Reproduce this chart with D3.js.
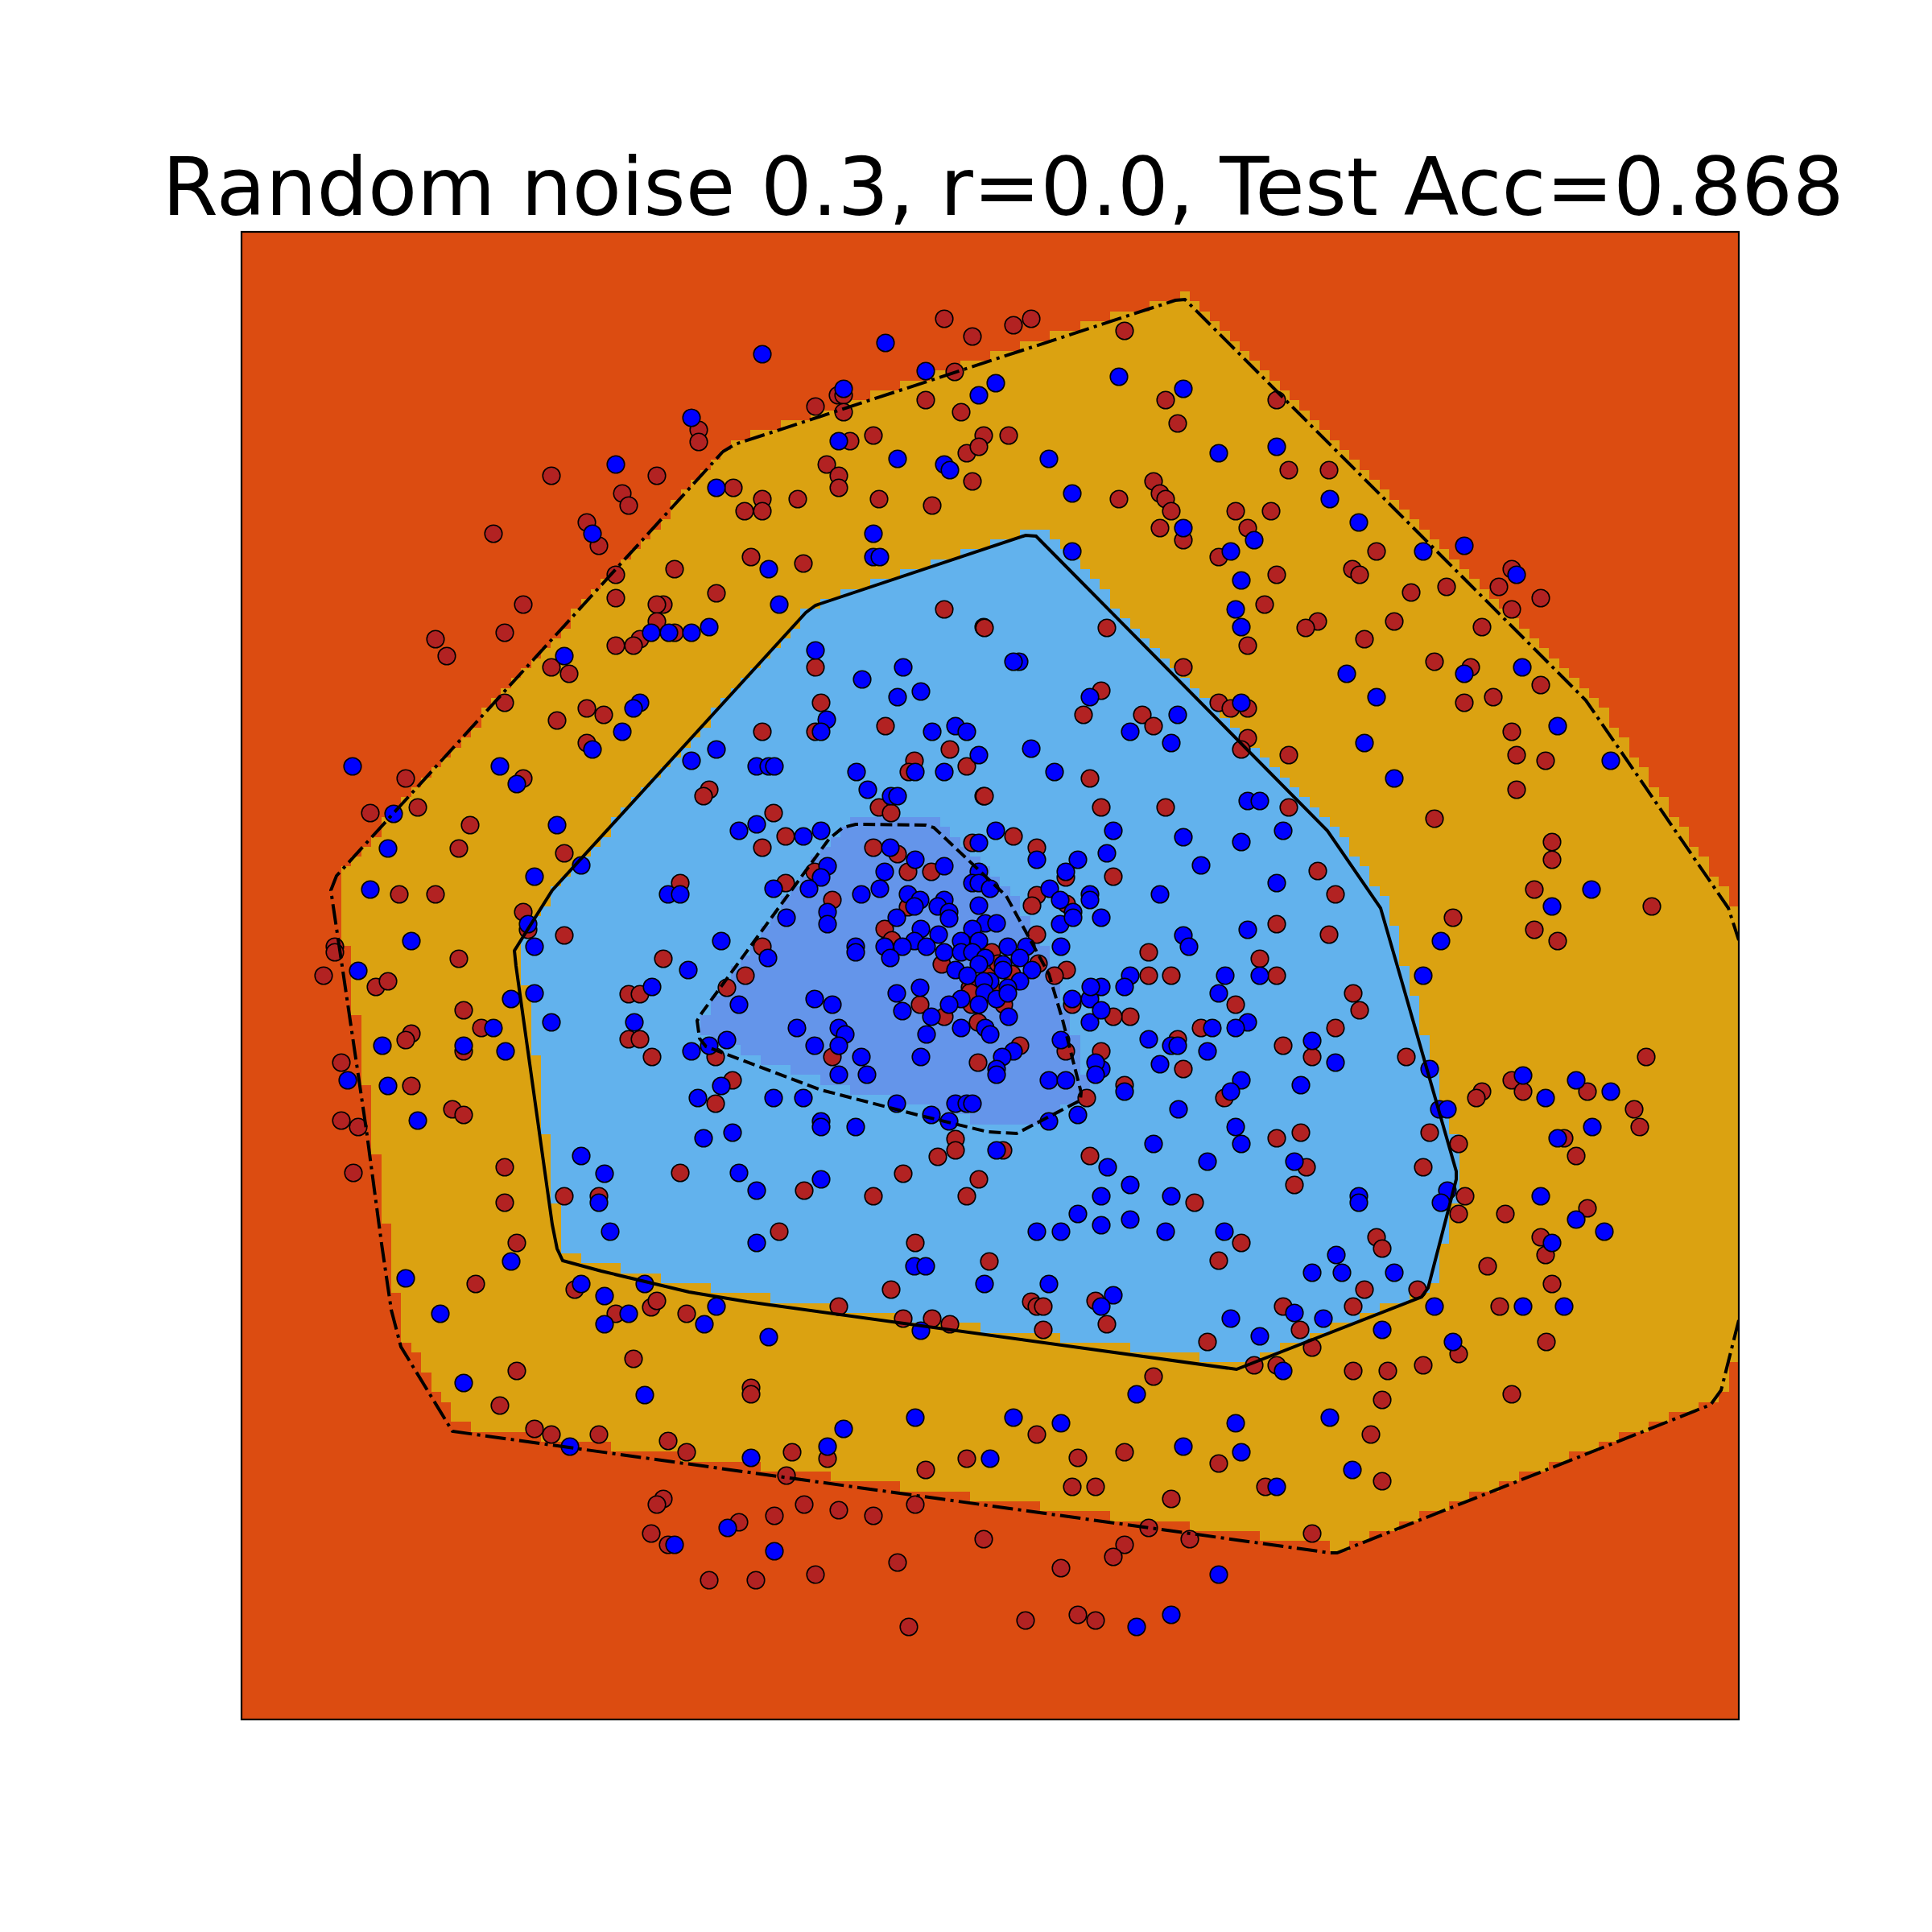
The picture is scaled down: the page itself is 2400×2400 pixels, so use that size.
<!DOCTYPE html>
<html>
<head>
<meta charset="utf-8">
<script src="https://cdn.jsdelivr.net/npm/d3@7"></script>
<style>
    html, body { margin: 0; background: #fff; }
</style>
</head>
<body>
<div id="chart"></div>
<script>
const titleText = "Random noise 0.3, r=0.0, Test Acc=0.868";

const redPoints = [
    [873,108],[908,130],[886,174],[741,203],[748,203],[713,217],[748,224],[850,209],[894,224],[922,253],
    [901,275],[916,267],[908,310],[785,253],[756,260],[727,289],[742,303],[742,318],[792,332],[858,340],
    [691,332],[647,332],[647,347],[625,347],[611,318],[516,303],[385,303],[568,246],[568,261],[473,325],
    [481,340],[429,361],[444,390],[313,375],[465,426],[465,455],[538,419],[633,404],[698,412],[590,449],
    [350,463],[327,498],[241,506],[255,527],[524,463],[516,463],[516,484],[538,498],[495,506],[487,514],
    [465,514],[385,541],[407,549],[327,585],[429,592],[450,600],[392,607],[429,635],[204,679],[350,679],
    [219,715],[160,722],[284,737],[270,766],[401,772],[196,823],[241,823],[350,845],[356,867],[401,874],
    [116,888],[116,895],[270,903],[102,924],[873,469],[922,491],[713,541],[720,585],[647,621],[713,621],
    [800,614],[880,643],[836,657],[829,671],[901,664],[922,701],[581,693],[574,701],[545,809],[524,903],
    // centre
    [661,722],[792,715],[807,722],[676,751],[647,765],[785,765],[815,773],[908,759],[959,751],[988,765],
    [828,795],[857,795],[712,795],[676,809],[734,830],[828,839],[988,824],[982,837],[1024,802],[1025,835],
    [799,866],[808,880],[988,873],[647,888],[626,924],[603,939],[932,895],[870,910],[990,909],[1025,917],
    [1010,924],[905,939],[843,960],[873,975],[907,960],[947,960],[915,982],[1032,960],[967,1011],[1024,1018],
    [589,1025],[734,1025],[915,1032],[610,1054],[589,1083],[887,1127],[887,1141],[865,1149],[946,1141],[1050,1076],
    [927,925],[957,922],[940,909],[905,945],[937,945],
    // upper right
    [981,108],[959,116],[1097,123],[1148,209],[1163,238],[1286,209],[953,253],[1301,296],[1351,296],[1133,310],
    [1141,325],[1148,332],[1090,332],[1155,347],[1141,368],[1170,383],[1235,347],[1279,347],[1250,368],[1214,404],
    [1410,397],[1380,419],[1389,426],[1286,426],[1453,448],[1497,441],[1271,463],[1337,484],[1322,492],[1432,484],
    [1395,506],[1541,491],[1250,514],[1578,419],[1562,441],[1578,469],[1614,455],[1075,492],[923,492],[1170,541],
    [1482,534],[1527,541],[1614,563],[1519,585],[1555,578],[1214,585],[1229,592],[1250,592],[1068,570],[1046,600],
    [1119,600],[1133,614],[1250,629],[1242,643],[1301,650],[1578,621],[1584,650],[1620,657],[1584,693],[1054,679],
    [923,701],[1068,715],[1148,715],[1482,729],[1301,715],[1628,758],[1628,780],[1337,794],[1083,801],[1359,823],
    [1606,817],[1752,838],[1505,852],[1286,860],[1351,873],[1606,867],[1635,881],[1127,895],[1265,903],[1127,924],
    [1155,924],[1286,924],
    // lower left
    [167,938],[182,931],[276,967],[298,989],[211,996],[204,1004],[124,1032],[276,1018],[211,1061],[124,1104],
    [145,1112],[262,1090],[276,1097],[139,1169],[327,1162],[327,1206],[401,1198],[444,1198],[545,1169],[342,1256],
    [291,1307],[414,1314],[465,1344],[509,1336],[516,1328],[553,1344],[481,947],[495,947],[481,1003],[495,1003],
    [510,1025],[668,1242],[837,1256],[807,1314],[742,1335],[822,1350],[858,1350],[880,1357],[785,1198],[699,1191],
    [822,1170],[916,1177],[901,1198],[929,1279],[487,1400],[342,1415],[321,1458],[633,1436],[633,1444],[364,1487],
    [385,1494],[444,1494],[530,1502],[553,1516],[684,1516],[728,1524],[850,1538],[901,1524],[677,1545],[524,1574],
    [516,1581],[618,1603],[662,1595],[699,1581],[742,1588],[785,1595],[837,1581],[509,1617],[530,1631],[922,1624],
    [581,1675],[639,1675],[713,1668],[815,1653],[829,1733],
    // lower right
    [1745,1025],[1381,946],[1389,967],[1359,989],[1294,1011],[1330,1025],[1447,1025],[1235,960],[1192,989],[1163,1003],
    [1068,1018],[1170,1040],[1104,975],[1083,975],[1097,1060],[1541,1068],[1534,1076],[1578,1054],[1592,1068],[1672,1068],
    [1730,1090],[1737,1112],[1643,1126],[1658,1148],[1512,1133],[1476,1119],[1316,1119],[1286,1126],[1468,1162],[1323,1162],
    [1308,1184],[1054,1148],[1221,1076],[1520,1198],[1512,1220],[1570,1220],[1672,1213],[1184,1206],[1242,1256],[1214,1278],
    [1410,1249],[1417,1263],[1614,1249],[1620,1271],[1548,1285],[1628,1307],[1395,1314],[1461,1314],[1563,1335],[1381,1335],
    [1294,1335],[1315,1364],[981,1329],[988,1335],[996,1335],[1061,1328],[1075,1357],[996,1364],[1200,1379],[1330,1386],
    [1258,1408],[1286,1408],[1512,1394],[1621,1379],[1381,1415],[1424,1415],[1468,1408],[1133,1422],[1417,1451],[1578,1444],
    [988,1494],[1403,1494],[1039,1523],[1097,1516],[1214,1530],[1032,1559],[1061,1559],[1272,1559],[1417,1552],[1155,1574],
    [1330,1617],[1127,1610],[1178,1624],[1097,1631],[1083,1646],[1018,1660],[974,1725],[1039,1718],[1061,1725]
];

const bluePoints = [
    [647,152],[800,138],[850,173],[748,195],[916,203],[559,231],[465,289],[742,260],[815,282],[873,289],
    [880,296],[590,318],[785,375],[785,404],[793,404],[655,419],[668,463],[436,375],[401,527],[509,498],
    [531,498],[559,498],[581,491],[713,520],[495,585],[487,592],[473,621],[436,643],[138,664],[321,664],
    [342,686],[189,723],[182,766],[392,737],[422,787],[364,801],[160,817],[356,860],[364,888],[211,881],
    [145,918],[530,823],[545,823],[771,556],[822,541],[815,578],[844,571],[727,606],[720,621],[858,621],
    [887,614],[901,621],[916,650],[873,671],[837,671],[764,671],[778,693],[807,701],[815,701],[590,643],
    [559,657],[640,664],[655,664],[662,664],
    // centre
    [618,744],[640,736],[698,751],[720,744],[806,765],[837,780],[916,759],[937,744],[988,780],[1039,780],
    [1024,795],[728,788],[720,802],[705,816],[661,816],[799,795],[873,788],[793,816],[770,823],[916,795],
    [908,809],[916,809],[930,816],[1004,816],[1017,830],[828,823],[843,830],[836,838],[873,830],[865,838],
    [879,845],[879,853],[916,837],[728,845],[728,860],[677,852],[814,852],[924,859],[938,859],[1017,860],
    [1033,845],[1033,852],[908,866],[596,881],[844,866],[866,873],[836,881],[851,888],[821,888],[799,888],
    [806,902],[763,888],[763,895],[654,902],[873,895],[894,881],[916,881],[894,895],[908,895],[952,888],
    [975,888],[967,902],[924,902],[916,910],[946,910],[946,917],[887,917],[902,924],[982,917],[1018,888],
    [555,917],[930,931],[922,931],[967,931],[952,939],[923,945],[814,946],[843,939],[821,968],[894,953],
    [879,960],[916,960],[938,953],[952,946],[857,975],[953,975],[894,989],[924,989],[930,997],[851,997],
    [1032,953],[1054,953],[1054,982],[712,953],[734,960],[618,960],[690,989],[742,989],[750,997],[742,1011],
    [712,1011],[603,1004],[581,1011],[559,1018],[1018,1004],[844,1025],[770,1025],[959,1018],[945,1025],[938,1040],
    [938,1047],[742,1047],[777,1047],[1003,1054],[1024,1054],[596,1061],[567,1076],[661,1076],[698,1076],[814,1083],
    [887,1083],[901,1083],[908,1083],[857,1097],[879,1105],[1003,1105],[1039,1097],[720,1105],[720,1112],[763,1112],
    [610,1119],[574,1126],[938,1141],
    // upper right
    [937,188],[1090,180],[1170,195],[1003,282],[1032,325],[1214,275],[1286,267],[1170,368],[1258,383],[1229,397],
    [1032,397],[1352,332],[1388,361],[1468,397],[1519,390],[1584,426],[1242,433],[1235,469],[1242,491],[966,534],
    [959,534],[1373,549],[1519,549],[1591,541],[1410,578],[1242,585],[1054,578],[1635,614],[1163,600],[1104,621],
    [1155,635],[981,642],[1010,671],[1395,635],[1432,679],[1701,657],[1250,707],[1265,707],[1294,744],[1170,752],
    [1242,758],[1083,744],[1075,772],[1192,787],[1141,823],[1286,809],[1677,817],[1628,838],[1054,823],[1054,830],
    [1068,852],[1170,874],[1177,888],[1250,867],[1490,881],[1468,924],[1104,924],
    [1222,924],[1265,924],
    // lower left
    [335,953],[364,946],[385,982],[313,989],[328,1018],[276,1011],[175,1011],[182,1061],[132,1054],[219,1104],
    [510,938],[488,982],[422,1148],[451,1170],[444,1206],[458,1242],[618,1169],[640,1191],[720,1177],[640,1256],
    [836,1285],[850,1285],[923,1307],[204,1300],[247,1344],[335,1279],[422,1307],[451,1322],[501,1307],[481,1344],
    [451,1357],[590,1335],[575,1357],[655,1373],[844,1365],[276,1430],[501,1445],[748,1487],[837,1473],[728,1509],
    [633,1523],[408,1509],[930,1524],[604,1610],[538,1631],[662,1639],
    // lower right
    [1214,946],[1097,938],[1068,938],[1055,938],[1068,967],[1250,982],[1206,989],[1235,989],[1127,1003],[1155,1011],
    [1163,1011],[1200,1018],[1330,1005],[1359,1032],[1141,1034],[1476,1040],[1068,1040],[1061,1032],[1061,1047],[1242,1054],
    [1229,1068],[1316,1060],[1097,1068],[1488,1090],[1498,1090],[1164,1090],[1235,1112],[1242,1133],[1133,1133],[1200,1155],
    [1308,1155],[1592,1048],[1658,1054],[1701,1068],[1620,1076],[1635,1126],[1678,1112],[1076,1162],[1104,1184],[1068,1198],
    [1155,1198],[1039,1220],[1068,1234],[1104,1227],[988,1242],[1018,1242],[1148,1242],[1221,1242],[1388,1198],[1388,1206],
    [1498,1191],[1490,1206],[1614,1198],[1658,1227],[1693,1242],[1628,1256],[1360,1271],[1330,1293],[1367,1293],[1432,1293],
    [1003,1307],[1083,1321],[1068,1335],[1308,1343],[1229,1350],[1344,1350],[1265,1372],[1482,1335],[1592,1335],[1643,1335],
    [1417,1364],[1505,1379],[1294,1415],[1112,1444],[959,1473],[1018,1480],[1235,1480],[1352,1473],[1170,1509],[1242,1516],
    [1380,1538],[1286,1559],[1214,1668],[1112,1733],[1155,1718]
];

const outerLine = [
    [1860,1352],[1838,1439],[1825,1457],[1361,1641],[1352,1641],[262,1490],[198,1385],[186,1339],[174,1257],[155,1115],
    [125,912],[111,818],[118,800],[598,273],[613,264],[1160,85],[1172,84],[1670,582],[1847,840],[1860,880]
];
const innerLine = [
    [713,464],[701,473],[386,818],[339,893],[341,912],[386,1233],[392,1263],[399,1278],[447,1291],[556,1317],
    [628,1329],[1236,1413],[1466,1323],[1474,1312],[1509,1177],[1509,1167],[1441,930],[1415,840],[1349,744],[987,378],[974,377]
];
const coreLine = [
    [566,980],[569,1002],[577,1012],[720,1066],[840,1097],[927,1118],[963,1120],[1042,1079],[1043,1069],[1020,979],
    [1003,922],[950,825],[860,740],[850,737],[763,736],[747,740],[730,754],[572,970]
];

const regionColors = ["#dc4c11", "#dba211", "#62b2ed", "#6495ea"];
const gridSize = 150;

const margin = { top: 288, left: 300 };
const plotWidth = 1860;
const plotHeight = 1848;

const svg = d3
    .select("#chart")
    .append("svg")
    .attr("width", 2400)
    .attr("height", 2400)
    .style("display", "block");

const x = d3.scaleLinear().domain([0, 1860]).range([0, plotWidth]);
const y = d3.scaleLinear().domain([0, 1848]).range([0, plotHeight]);

svg.append("defs")
    .append("clipPath")
    .attr("id", "plot-clip")
    .append("rect")
    .attr("width", plotWidth)
    .attr("height", plotHeight);

const plot = svg
    .append("g")
    .attr("transform", `translate(${margin.left}, ${margin.top})`);

const regions = plot.append("g").attr("clip-path", "url(#plot-clip)");

regions
    .append("rect")
    .attr("width", plotWidth)
    .attr("height", plotHeight)
    .attr("fill", regionColors[0]);

// contour fill sits on a coarse grid, so the edges come out as stairs
const cellW = 1860 / gridSize;
const cellH = 1848 / gridSize;

function cellPath(polygon) {
    let d = "";
    for (let j = 0; j < gridSize; j++) {
        let start = -1;
        for (let i = 0; i <= gridSize; i++) {
            // half a cell of offset, the fill leans up and right of the lines
            const inside =
                i < gridSize &&
                d3.polygonContains(polygon, [(i - 0.1) * cellW, (j + 1.1) * cellH]);
            if (inside && start < 0) start = i;
            if (!inside && start >= 0) {
                d += `M${x(start * cellW)},${y(j * cellH)}H${x(i * cellW)}V${y((j + 1) * cellH)}H${x(start * cellW)}Z`;
                start = -1;
            }
        }
    }
    return d;
}

[outerLine, innerLine, coreLine].forEach((polygon, k) => {
    regions
        .append("path")
        .attr("d", cellPath(polygon))
        .attr("fill", regionColors[k + 1])
        .attr("shape-rendering", "crispEdges");
});

const drawPoints = (data, color) => {
    plot.append("g")
        .selectAll("circle")
        .data(data)
        .enter()
        .append("circle")
        .attr("cx", (d) => x(d[0]))
        .attr("cy", (d) => y(d[1]))
        .attr("r", 10.8)
        .attr("fill", color)
        .attr("stroke", "#000")
        .attr("stroke-width", 1.6);
};

drawPoints(redPoints, "#b22222");
drawPoints(bluePoints, "#0000ff");

const line = d3.line().x((d) => x(d[0])).y((d) => y(d[1]));

const lines = plot.append("g").attr("clip-path", "url(#plot-clip)");

const drawLine = (data, closed, dash) => {
    lines
        .append("path")
        .attr("d", line(data) + (closed ? "Z" : ""))
        .attr("fill", "none")
        .attr("stroke", "#000")
        .attr("stroke-width", 4)
        .attr("stroke-dasharray", dash);
};

drawLine(outerLine, false, "25.6,6.4,4,6.4");
drawLine(innerLine, true, null);
drawLine(coreLine, true, "14.8,6.4");

plot.append("rect")
    .attr("width", plotWidth)
    .attr("height", plotHeight)
    .attr("fill", "none")
    .attr("stroke", "#000")
    .attr("stroke-width", 2.2);

svg.append("text")
    .attr("x", 1246)
    .attr("y", 267)
    .attr("text-anchor", "middle")
    .attr("font-family", "DejaVu Sans")
    .attr("font-size", 100)
    .attr("fill", "#000")
    .text(titleText);
</script>
</body>
</html>
